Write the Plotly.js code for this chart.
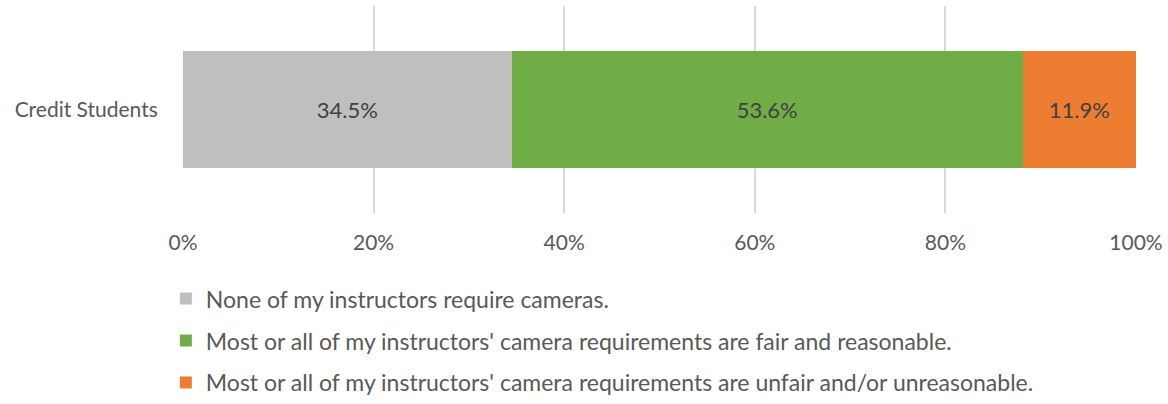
<!DOCTYPE html>
<html>
<head>
<meta charset="utf-8">
<script src="https://cdn.plot.ly/plotly-3.0.1.min.js"></script>
<style>
  html, body { margin: 0; padding: 0; background: #fff; }
  #chart { width: 1168px; height: 404px; }
</style>
</head>
<body>
<div id="chart"></div>
<script>
// chart data
const categories = ["Credit Students"];
const seriesNames = [
  "None of my instructors require cameras.",
  "Most or all of my instructors' camera requirements are fair and reasonable.",
  "Most or all of my instructors' camera requirements are unfair and/or unreasonable."
];
const noneValues = [34.5];
const fairValues = [53.6];
const unfairValues = [11.9];
const seriesColors = ["#bfbfbf", "#70ad47", "#ed7d31"];
const tickValues = [0, 20, 40, 60, 80, 100];
const tickLabels = ["0%", "20%", "40%", "60%", "80%", "100%"];

const font = "Lato, 'Open Sans', sans-serif";

function makeTrace(name, values, color, idx) {
  return {
    type: "bar",
    orientation: "h",
    name: name,
    x: values,
    y: categories,
    marker: { color: color },
    text: values.map(v => v.toFixed(1) + "%"),
    textposition: "inside",
    insidetextanchor: "middle",
    textfont: { family: font, size: 22, color: "#404040" },
    legendgroup: "g" + idx,
    hoverinfo: "skip"
  };
}

const traces = [
  makeTrace(seriesNames[0], noneValues, seriesColors[0], 0),
  makeTrace(seriesNames[1], fairValues, seriesColors[1], 1),
  makeTrace(seriesNames[2], unfairValues, seriesColors[2], 2)
];

const layout = {
  width: 1168,
  height: 404,
  margin: { l: 183, r: 32, t: 6, b: 191, autoexpand: false },
  barmode: "stack",
  bargap: 0.435,
  paper_bgcolor: "#fff",
  plot_bgcolor: "#fff",
  font: { family: font, size: 21, color: "#595959" },
  xaxis: {
    range: [0, 100],
    tickvals: tickValues,
    ticktext: tickLabels,
    showgrid: true,
    gridcolor: "#d9d9d9",
    gridwidth: 2,
    zeroline: false,
    showline: false,
    ticks: "outside",
    ticklen: 11,
    tickcolor: "rgba(0,0,0,0)",
    tickfont: { family: font, size: 21, color: "#595959" },
    fixedrange: true
  },
  yaxis: {
    showgrid: false,
    zeroline: false,
    showline: false,
    ticks: "outside",
    ticklen: 20,
    tickcolor: "rgba(0,0,0,0)",
    tickfont: { family: font, size: 21, color: "#595959" },
    fixedrange: true
  },
  showlegend: true,
  legend: {
    orientation: "v",
    traceorder: "grouped",
    tracegroupgap: 9,
    x: -0.018,
    xanchor: "left",
    y: -0.31,
    yanchor: "top",
    font: { family: font, size: 23, color: "#595959" },
    bgcolor: "rgba(0,0,0,0)"
  }
};

Plotly.newPlot("chart", traces, layout, { displayModeBar: false, staticPlot: true });
</script>
</body>
</html>
